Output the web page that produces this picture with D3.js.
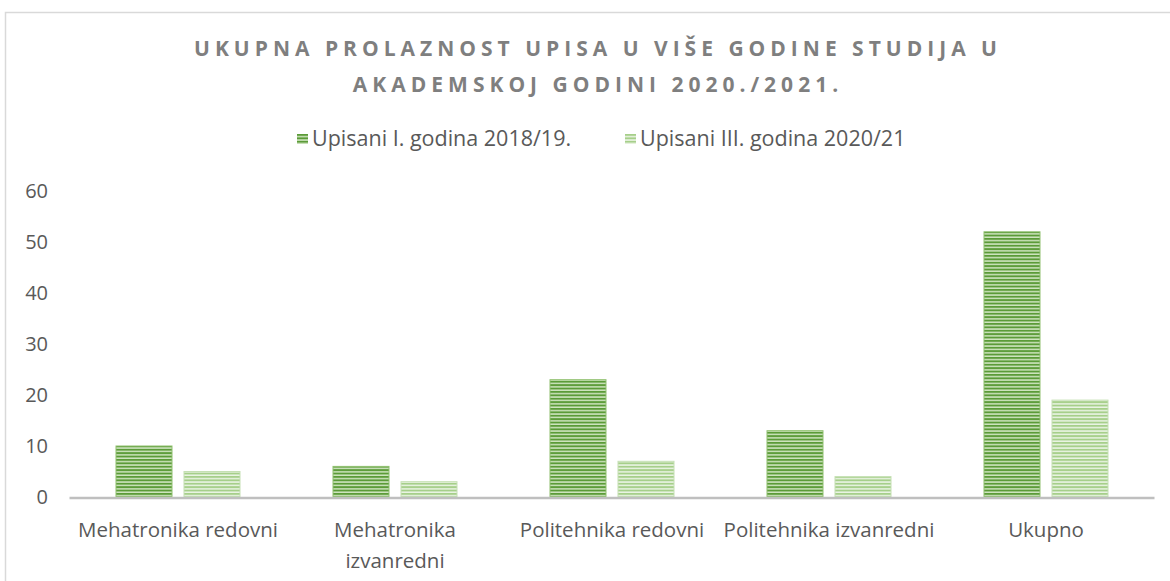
<!DOCTYPE html>
<meta charset="utf-8">
<html>
<head>
<style>
  body { margin: 0; background: #fff; }
  text { font-family: "Open Sans", "Noto Sans", sans-serif; }
</style>
</head>
<body>
<div id="chart"></div>
<script src="https://d3js.org/d3.v7.min.js"></script>
<script>

  // data
  var categories = ["Mehatronika redovni", "Mehatronika\nizvanredni", "Politehnika redovni", "Politehnika izvanredni", "Ukupno"];
  var seriesNames = ["Upisani I. godina 2018/19.", "Upisani III. godina 2020/21"];
  var firstYear = [10, 6, 23, 13, 52];
  var thirdYear = [5, 3, 7, 4, 19];
  var yTicks = [0, 10, 20, 30, 40, 50, 60];
  var titleLines = ["UKUPNA PROLAZNOST UPISA U VIŠE GODINE STUDIJA U", "AKADEMSKOJ GODINI 2020./2021."];

  var width = 1170, height = 581;

  var svg = d3.select("#chart")
    .append("svg")
      .attr("width", width)
      .attr("height", height);

  // striped fills for the two series
  var defs = svg.append("defs");
  var fills = [
    {id: "stripeDark", bg: "#cfe5c0", fg: "#5b9b38", edge: "#8fc06f"},
    {id: "stripeLight", bg: "#ebf4e4", fg: "#a6cf8a", edge: "#c5e0b4"}
  ];
  fills.forEach(function(f) {
    var p = defs.append("pattern")
      .attr("id", f.id)
      .attr("patternUnits", "userSpaceOnUse")
      .attr("width", 8)
      .attr("height", 3.4);
    p.append("rect").attr("width", 8).attr("height", 3.4).attr("fill", f.bg);
    p.append("rect").attr("width", 8).attr("height", 1.9).attr("fill", f.fg);
  });

  // chart frame
  svg.append("rect")
    .attr("x", 5.5)
    .attr("y", 12.5)
    .attr("width", 1170)
    .attr("height", 600)
    .attr("fill", "none")
    .attr("stroke", "#d9d9d9")
    .attr("stroke-width", 1.5);

  // title
  svg.append("g")
    .selectAll("text")
    .data(titleLines)
    .enter()
    .append("text")
      .attr("x", 598)
      .attr("y", function(d, i) { return 56 + i * 36; })
      .attr("text-anchor", "middle")
      .style("font-size", "21px")
      .style("font-weight", "bold")
      .style("letter-spacing", "5px")
      .attr("fill", "#7f7f7f")
      .text(function(d) { return d; });

  // scales
  var y = d3.scaleLinear()
    .domain([0, 60])
    .range([497, 191]);

  var x0 = d3.scaleBand()
    .domain(categories)
    .range([69.5, 1154.5]);

  var x1 = d3.scaleBand()
    .domain(seriesNames)
    .range([46.5, 170.5])
    .paddingInner(12 / 68);

  // y axis labels only, no line
  var yAxis = svg.append("g")
    .attr("transform", "translate(48,0)")
    .call(d3.axisLeft(y).tickValues(yTicks).tickSize(0).tickPadding(0));
  yAxis.select(".domain").remove();
  yAxis.selectAll("text")
    .style("font-size", "20px")
    .attr("fill", "#595959");

  // bars
  var seriesData = [firstYear, thirdYear];
  seriesData.forEach(function(vals, s) {
    svg.append("g")
      .selectAll("rect")
      .data(vals)
      .enter()
      .append("rect")
        .attr("x", function(d, i) { return x0(categories[i]) + x1(seriesNames[s]); })
        .attr("y", function(d) { return y(d); })
        .attr("width", x1.bandwidth())
        .attr("height", function(d) { return y(0) - y(d); })
        .attr("fill", "url(#" + fills[s].id + ")")
        .attr("stroke", fills[s].edge)
        .attr("stroke-width", 1);
  });

  // x axis line
  svg.append("line")
    .attr("x1", x0.range()[0])
    .attr("x2", x0.range()[1])
    .attr("y1", y(0) + 1)
    .attr("y2", y(0) + 1)
    .attr("stroke", "#bfbfbf")
    .attr("stroke-width", 2.5);

  // category labels
  var catLabels = svg.append("g")
    .selectAll("text")
    .data(categories)
    .enter()
    .append("text")
      .attr("text-anchor", "middle")
      .attr("fill", "#595959")
      .style("font-size", "20.5px");
  catLabels.each(function(d) {
    var t = d3.select(this);
    var cx = x0(d) + x0.bandwidth() / 2;
    d.split("\n").forEach(function(line, i) {
      t.append("tspan")
        .attr("x", cx)
        .attr("y", 537 + i * 31)
        .text(line);
    });
  });

  // legend
  var legendX = [297, 625];
  var legend = svg.append("g")
    .selectAll("g")
    .data(seriesNames)
    .enter()
    .append("g")
      .attr("transform", function(d, i) { return "translate(" + legendX[i] + ",134)"; });
  legend.append("rect")
    .attr("width", 11)
    .attr("height", 10)
    .attr("fill", function(d, i) { return "url(#" + fills[i].id + ")"; });
  legend.append("text")
    .attr("x", 15)
    .attr("y", 12)
    .attr("fill", "#595959")
    .style("font-size", "21.5px")
    .text(function(d) { return d; });

</script>
</body>
</html>
